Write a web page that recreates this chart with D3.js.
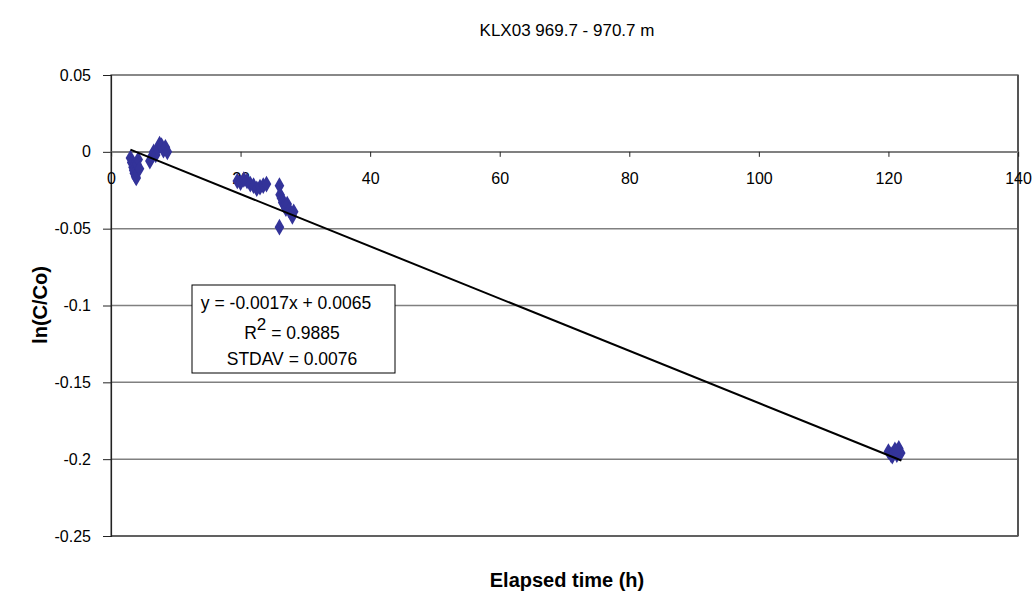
<!DOCTYPE html>
<html><head><meta charset="utf-8">
<script src="https://cdn.jsdelivr.net/npm/d3@7"></script>
<style>body{margin:0;background:#fff;} text{font-family:"Liberation Sans",Arial,sans-serif;}</style>
</head><body>
<svg id="c" width="1034" height="594"></svg>
<script>
// Data
const timeH = [3.0,3.2,3.4,3.5,3.6,3.8,3.9,4.0,4.2,4.4,
  6.0,6.3,6.6,6.9,7.2,7.5,7.8,8.1,8.4,8.7,
  19.5,20.0,20.5,21.0,21.5,22.0,22.5,23.0,23.5,24.0,
  26.0,26.1,26.3,26.5,26.8,27.0,27.2,27.5,27.8,28.0,28.2,26.0,
  120.0,120.4,120.8,121.0,121.3,121.6,121.9,120.6,121.2];
const lnCCo = [-0.004,-0.007,-0.010,-0.012,-0.014,-0.016,-0.017,-0.008,-0.005,-0.011,
  -0.006,-0.003,0.000,-0.002,0.002,0.005,0.004,0.001,0.003,0.000,
  -0.019,-0.020,-0.018,-0.019,-0.021,-0.022,-0.024,-0.023,-0.022,-0.021,
  -0.022,-0.028,-0.030,-0.033,-0.035,-0.037,-0.034,-0.038,-0.040,-0.042,-0.039,-0.049,
  -0.195,-0.197,-0.196,-0.194,-0.197,-0.193,-0.196,-0.198,-0.195];
const xTicks = [0,20,40,60,80,100,120,140];
const yTicks = [0.05,0,-0.05,-0.1,-0.15,-0.2,-0.25];
const fitSlope = -0.0017, fitIntercept = 0.0065;
const fitRange = [3, 122];
const fitLines = ["y = -0.0017x + 0.0065", "R2 = 0.9885", "STDAV = 0.0076"];
const title = "KLX03 969.7 - 970.7 m";
const xLabel = "Elapsed time (h)";
const yLabel = "ln(C/Co)";

const svg = d3.select("#c");
const L=111, R=1018, T=75, B=536;
const x = d3.scaleLinear().domain([0,140]).range([L,R]);
const y = d3.scaleLinear().domain([-0.25,0.05]).range([B,T]);
const FF = "Liberation Sans, Arial, sans-serif";

// gridlines
svg.append("g").selectAll("line").data(yTicks).join("line")
  .attr("x1",L).attr("x2",R).attr("y1",d=>y(d)).attr("y2",d=>y(d))
  .attr("stroke","#808080").attr("stroke-width",1.5);
// plot border
svg.append("rect").attr("x",L).attr("y",T).attr("width",R-L).attr("height",B-T)
  .attr("fill","none").attr("stroke","#808080").attr("stroke-width",1.5);
svg.append("line").attr("x1",R).attr("x2",R).attr("y1",T).attr("y2",B).attr("stroke","#555").attr("stroke-width",2);
svg.append("line").attr("x1",L).attr("x2",R).attr("y1",B).attr("y2",B).attr("stroke","#555").attr("stroke-width",1.5);

// y axis
const yAxis = d3.axisLeft(y).tickValues(yTicks).tickSize(8).tickPadding(12)
  .tickFormat(d=>d===0?"0":String(d));
const gy = svg.append("g").attr("transform",`translate(${L},0)`).call(yAxis);
gy.select(".domain").attr("stroke","#222").attr("stroke-width",1.2);
gy.selectAll(".tick line").attr("stroke","#222");
gy.selectAll("text").attr("font-size",16).attr("fill","#000").attr("font-family",FF);

// x axis at y=0
const xAxis = d3.axisBottom(x).tickValues(xTicks).tickSize(5).tickPadding(16).tickFormat(d3.format("d"));
const gx = svg.append("g").attr("transform",`translate(0,${y(0)})`).call(xAxis);
gx.select(".domain").attr("stroke","#808080").attr("stroke-width",1.5);
gx.selectAll(".tick line").attr("stroke","#222");
gx.selectAll("text").attr("font-size",16).attr("fill","#000").attr("font-family",FF);

// points
const diamond = d3.symbol().type(d3.symbolDiamond).size(80);
svg.append("g").selectAll("path").data(timeH.map((t,i)=>[t,lnCCo[i]])).join("path")
  .attr("d",diamond).attr("transform",d=>`translate(${x(d[0])},${y(d[1])})`)
  .attr("fill","#333399");

// fit line
svg.append("line")
  .attr("x1",x(fitRange[0])).attr("y1",y(fitSlope*fitRange[0]+fitIntercept))
  .attr("x2",x(fitRange[1])).attr("y2",y(fitSlope*fitRange[1]+fitIntercept))
  .attr("stroke","#000").attr("stroke-width",2);

// text box
svg.append("rect").attr("x",192).attr("y",285).attr("width",203).attr("height",88)
  .attr("fill","#fff").attr("stroke","#000").attr("stroke-width",1);
svg.append("text").attr("x",286).attr("y",309).attr("text-anchor","middle").attr("font-size",17.5).text(fitLines[0]);
const t2 = svg.append("text").attr("x",292).attr("y",339).attr("text-anchor","middle").attr("font-size",17.5);
t2.append("tspan").text("R");
t2.append("tspan").attr("dy",-9).attr("font-size",17).text("2");
t2.append("tspan").attr("dy",9).text(" = 0.9885");
svg.append("text").attr("x",292).attr("y",365).attr("text-anchor","middle").attr("font-size",17.5).text(fitLines[2]);

// titles
svg.append("text").attr("x",567).attr("y",36).attr("text-anchor","middle").attr("font-size",17).text(title);
svg.append("text").attr("x",567).attr("y",587).attr("text-anchor","middle").attr("font-size",20).attr("font-weight","bold").text(xLabel);
svg.append("text").attr("transform","translate(47,305) rotate(-90)").attr("text-anchor","middle").attr("font-size",20).attr("font-weight","bold").text(yLabel);
</script>
</body></html>
